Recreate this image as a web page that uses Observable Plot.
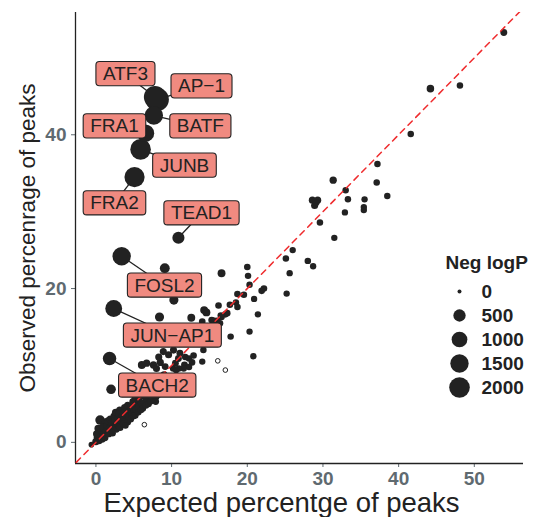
<!DOCTYPE html>
<html>
<head>
<meta charset="utf-8">
<script src="https://cdn.jsdelivr.net/npm/d3@7"></script>
<script src="https://cdn.jsdelivr.net/npm/@observablehq/plot@0.6"></script>
<style>
  html, body { margin: 0; padding: 0; background: #fff; }
  #wrap { position: relative; width: 536px; height: 517px; }
  #legend { position: absolute; left: 430px; top: 250px; }
</style>
</head>
<body>
<div id="wrap"><div id="legend"></div></div>
<script>
// ---------------- data ----------------
// labelled motifs
const labelName     = ["ATF3", "AP\u22121", "BATF", "FRA1", "JUNB", "FRA2", "TEAD1", "FOSL2", "JUN\u2212AP1", "BACH2"];
const labelExpected = [7.8, 8.1, 7.65, 6.55, 5.9, 5.1, 10.9, 3.4, 2.35, 1.8];
const labelObserved = [44.9, 44.6, 42.5, 40.2, 38.1, 34.5, 26.6, 24.2, 17.4, 10.9];
const labelNegLogP  = [2400, 2700, 1500, 1300, 2000, 1900, 480, 1500, 1200, 650];

// other motifs (expected %, observed %, neg logP)
const otherExpected = [
  53.9, 44.2, 48.1, 41.6, 37.2, 31.35, 37.1, 33.0, 38.5, 33.3, 35.5, 28.6, 29.3, 28.9, 29.1, 35.4, 35.4, 32.9, 29.6, 31.5,
  26.0, 25.1, 28.0, 28.7, 25.6, 22.2, 21.9, 25.2, 20.0, 16.6, 20.1, 20.3, 18.7, 19.55, 20.9, 18.5, 17.7, 16.2, 18.7, 21.4,
  17.35, 17.1, 16.5, 14.3, 14.6, 12.6, 15.3, 16.0, 20.3, 17.8, 20.8, 14.2, 11.8, 12.3, 12.9, 12.7, 12.3, 11.6, 10.95, 14.05,
  9.1, 10.3, 8.4, 15.6, 14.05, 16.6, 7.9, 2.0, 0.55, 10.2, 10.6, 16.4,
  6.06, 6.7, 7.6, 8.5, 8.3, 8.9, 9.6, 10.25, 10.9, 11.1, 11.7, 10.5, 9.15, 8.0,
  -0.6, 0.0, 0.2, 0.4, 0.1, 0.5, 0.8, 0.7, 0.3, 1.0, 0.9,
  1.2, 1.3, 1.5, 1.2, 1.7, 1.8, 1.6, 2.0, 2.1, 1.9,
  2.2, 2.3, 2.5, 2.4, 2.7, 2.8, 2.9, 2.6, 3.05, 3.0,
  3.2, 3.35, 3.4, 3.15, 3.6, 3.7, 3.65, 3.8, 3.9, 4.0,
  4.2, 4.3, 4.45, 4.2, 4.6, 4.75, 4.6, 4.9, 4.95, 5.0,
  5.2, 5.3, 5.45, 5.2, 5.6, 5.7, 5.65, 5.9, 5.95, 6.0,
  6.2, 6.35, 6.4, 6.2, 6.6, 6.7, 6.65, 6.9, 6.95, 7.0,
  7.2, 7.3, 7.45, 7.2, 7.6, 7.75, 7.6, 7.9, 7.95, 8.0,
  8.2, 8.4, 8.3, 8.6, 8.7, 8.9, 9.0, 9.3
];
const otherObserved = [
  53.3, 46.0, 46.4, 40.1, 36.2, 34.1, 33.8, 32.8, 32.05, 31.6, 31.6, 31.5, 31.5, 30.8, 31.2, 30.6, 30.2, 29.9, 28.6, 26.6,
  25.0, 23.9, 23.6, 22.9, 22.0, 20.0, 19.7, 19.35, 22.8, 22.0, 21.65, 20.5, 19.3, 19.2, 18.65, 18.2, 17.9, 17.8, 17.6, 16.65,
  16.8, 16.65, 16.5, 17.2, 16.9, 16.2, 15.9, 15.8, 14.4, 13.75, 11.2, 12.0, 11.1, 10.9, 11.3, 10.4, 9.8, 9.6, 9.6, 10.5,
  22.65, 18.5, 16.3, 15.8, 15.7, 16.3, 5.3, 6.9, 2.9, 9.6, 9.4, 15.5,
  10.06, 10.3, 10.06, 10.4, 11.1, 11.8, 11.4, 12.0, 10.9, 11.6, 10.06, 10.3, 9.85, 9.6,
  -0.3, 0.1, 0.6, 0.2, 1.1, 0.9, 0.4, 1.5, 1.8, 1.0, 2.0,
  0.6, 1.4, 2.2, 2.6, 1.1, 1.9, 2.8, 1.5, 2.5, 3.0,
  1.2, 2.0, 2.8, 3.4, 1.7, 2.4, 3.2, 3.9, 2.0, 3.7,
  1.9, 2.6, 3.3, 4.2, 2.4, 3.0, 3.8, 4.5, 2.2, 3.5,
  2.6, 3.3, 4.1, 4.8, 3.0, 3.8, 4.6, 5.3, 3.4, 4.3,
  3.5, 4.2, 5.0, 5.7, 3.9, 4.7, 5.5, 6.2, 4.2, 5.1,
  4.4, 5.2, 6.0, 6.8, 4.8, 5.6, 6.5, 7.2, 5.0, 6.2,
  5.3, 6.1, 6.9, 7.7, 5.6, 6.5, 7.4, 8.2, 5.9, 7.0,
  6.2, 7.3, 8.0, 8.6, 6.6, 7.6, 8.8, 7.9
];
const otherNegLogP = [
  60, 90, 45, 45, 45, 80, 45, 45, 45, 45, 40, 70, 70, 70, 60, 40, 40, 40, 45, 40,
  40, 45, 45, 40, 40, 50, 50, 40, 50, 110, 45, 45, 50, 50, 40, 45, 50, 50, 45, 40,
  50, 50, 50, 110, 110, 110, 60, 60, 40, 45, 40, 45, 50, 50, 50, 50, 45, 45, 45, 40,
  250, 190, 190, 50, 50, 45, 55, 230, 230, 45, 45, 45,
  110, 80, 80, 80, 70, 70, 70, 70, 60, 60, 60, 60, 60, 70,
  20, 80, 90, 70, 80, 90, 70, 80, 90, 70, 80,
  60, 70, 80, 90, 60, 70, 80, 60, 70, 80,
  50, 70, 70, 80, 60, 60, 70, 80, 50, 70,
  50, 60, 70, 80, 50, 60, 70, 80, 45, 60,
  50, 60, 70, 80, 50, 60, 70, 80, 50, 60,
  50, 60, 70, 80, 50, 60, 70, 80, 50, 60,
  50, 60, 70, 80, 50, 60, 70, 80, 50, 60,
  50, 60, 70, 80, 50, 60, 70, 80, 50, 60,
  50, 60, 70, 70, 50, 60, 60, 50
];

// motifs drawn hollow
const hollowExpected = [16.1, 17.1, 6.4];
const hollowObserved = [10.6, 9.4, 2.3];
const hollowNegLogP  = [3, 3, 3];

// reference line y = x
const abline = { slope: 1, intercept: 0 };

// axis ticks & titles
const xTicks = [0, 10, 20, 30, 40, 50];
const yTicks = [0, 20, 40];
const xTitle = "Expected percentge of peaks";
const yTitle = "Observed percenrage of peaks";
const legendTitle = "Neg logP";
const legendBreaks = [0, 500, 1000, 1500, 2000];

// ---------------- layout (repelled label positions, data units) ----------------
const labelPosX = [3.9, 13.95, 13.8, 2.45, 11.7, 2.45, 13.95, 9.06, 10.1, 8.1];
const labelPosY = [47.9, 46.3, 41.1, 41.1, 36.0, 31.1, 29.8, 20.4, 13.9, 7.4];

// ---------------- build ----------------
const xDomain = [-2.7, 56.5];
const yDomain = [-2.75, 55.9];
const sizeScale = { type: "sqrt", domain: [0, 2000], range: [2, 10.3] };

const ink = "#222222";
const tickGray = "#5f6a70";
const red = "#ef2b2d";
const boxFill = "#f08a80";
const font = "'Liberation Sans', Arial, Helvetica, sans-serif";

const labeled = labelName.map((name, i) => ({
  name, x: labelExpected[i], y: labelObserved[i], v: labelNegLogP[i],
  lx: labelPosX[i], ly: labelPosY[i]
}));
const others = otherExpected.map((x, i) => ({ x, y: otherObserved[i], v: otherNegLogP[i] }));
const hollows = hollowExpected.map((x, i) => ({ x, y: hollowObserved[i], v: hollowNegLogP[i] }));
const lineData = [xDomain[0] - 5, xDomain[1] + 5].map(x => ({ x, y: abline.intercept + abline.slope * x }));

const chart = Plot.plot({
  width: 536,
  height: 517,
  marginLeft: 75,
  marginRight: 13,
  marginTop: 12,
  marginBottom: 54,
  x: { domain: xDomain },
  y: { domain: yDomain },
  r: sizeScale,
  style: { fontFamily: font, background: "white", overflow: "visible" },
  marks: [
    Plot.axisX({ ticks: xTicks, tickSize: 4, tickPadding: 4, fontSize: 19, fontWeight: "bold", color: tickGray, label: null }),
    Plot.axisY({ ticks: yTicks, tickSize: 4, tickPadding: 5, fontSize: 19, fontWeight: "bold", color: tickGray, label: null }),
    Plot.ruleX([xDomain[0]], { stroke: ink, strokeWidth: 1.3 }),
    Plot.ruleY([yDomain[0]], { stroke: ink, strokeWidth: 1.3 }),
    Plot.text([xTitle], { frameAnchor: "bottom", dx: -18, dy: 40, lineAnchor: "middle", textAnchor: "middle", fontSize: 27.5, fill: ink }),
    Plot.text([yTitle], { frameAnchor: "left", rotate: -90, dx: -48, lineAnchor: "middle", textAnchor: "middle", fontSize: 22.5, fill: ink }),
    Plot.link(labeled, { x1: "x", y1: "y", x2: "lx", y2: "ly", stroke: ink, strokeWidth: 1.3 }),
    Plot.dot(others, { x: "x", y: "y", r: "v", fill: ink }),
    Plot.dot(hollows, { x: "x", y: "y", r: "v", fill: "white", stroke: ink, strokeWidth: 1 }),
    Plot.dot(labeled, { x: "x", y: "y", r: "v", fill: ink }),
    Plot.line(lineData, { x: "x", y: "y", stroke: red, strokeWidth: 1.5, strokeDasharray: "6,5", clip: true }),
    Plot.text(labeled, { x: "lx", y: "ly", text: "name", fontSize: 19, fill: ink })
  ]
});

const wrap = document.getElementById("wrap");
wrap.insertBefore(chart, wrap.firstChild);

// label boxes (like ggrepel geom_label) behind each label text
const svgNS = "http://www.w3.org/2000/svg";
const nameSet = new Set(labelName);
chart.querySelectorAll("text").forEach(t => {
  if (!nameSet.has(t.textContent)) return;
  const b = t.getBBox();
  const padX = 7, padY = 1.6;
  const rect = document.createElementNS(svgNS, "rect");
  rect.setAttribute("x", b.x - padX);
  rect.setAttribute("y", b.y - padY);
  rect.setAttribute("width", b.width + 2 * padX);
  rect.setAttribute("height", b.height + 2 * padY);
  rect.setAttribute("rx", 3.5);
  rect.setAttribute("fill", boxFill);
  rect.setAttribute("stroke", ink);
  rect.setAttribute("stroke-width", 1.1);
  const tr = t.getAttribute("transform");
  if (tr) rect.setAttribute("transform", tr);
  t.parentNode.insertBefore(rect, t);
});

// size legend, drawn with the same r scale
const legend = Plot.plot({
  width: 106,
  height: 160,
  margin: 0,
  y: { domain: [0, 2000], range: [41, 137], axis: null },
  r: sizeScale,
  style: { fontFamily: font, background: "transparent", overflow: "visible" },
  marks: [
    Plot.text([legendTitle], { frameAnchor: "top-left", dx: 15, dy: 5, lineAnchor: "top", textAnchor: "start", fontSize: 19, fontWeight: "bold", fill: ink }),
    Plot.dot(legendBreaks, { y: d => d, r: d => d, frameAnchor: "left", dx: 29, fill: ink }),
    Plot.text(legendBreaks, { y: d => d, text: d => String(d), frameAnchor: "left", dx: 51, textAnchor: "start", fontSize: 19, fontWeight: "bold", fill: ink })
  ]
});
document.getElementById("legend").appendChild(legend);
</script>
</body>
</html>
